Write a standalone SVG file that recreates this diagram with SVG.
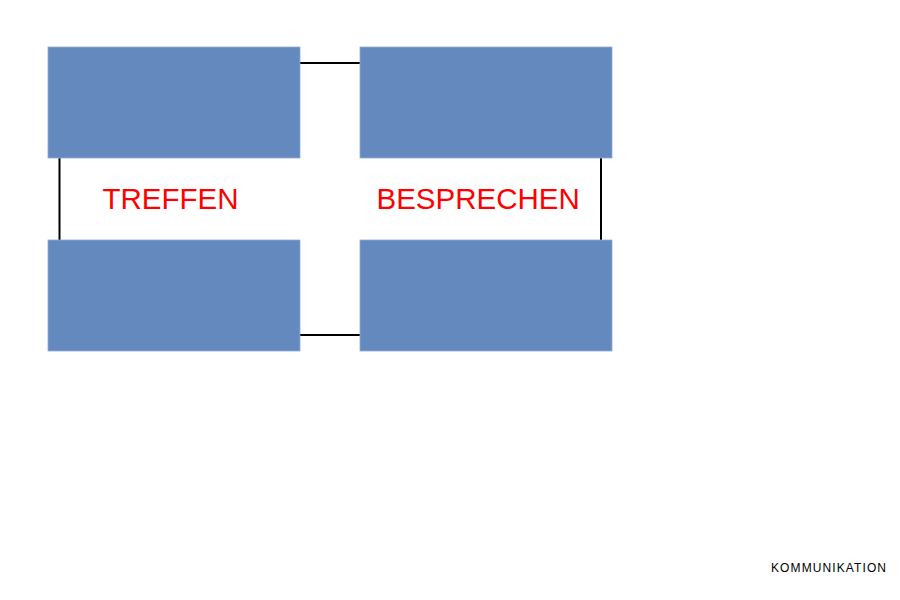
<svg xmlns="http://www.w3.org/2000/svg" width="900" height="600" viewBox="0 0 900 600">
<style>
.box{fill:#6389BE;stroke:#8FADD6;stroke-width:0.8}
.conn{stroke:#000;stroke-width:2;fill:none}
.lbl{font-family:"Liberation Sans",Arial,sans-serif;font-size:29.5px;fill:#FF0000}
.foot{font-family:"Liberation Sans",Arial,sans-serif;font-size:12px;fill:#000;letter-spacing:1.1px}
</style>
<rect width="900" height="600" fill="#fff"/>
<g id="connectors">
<line class="conn" x1="300" y1="63" x2="360" y2="63"/>
<line class="conn" x1="300" y1="335" x2="360" y2="335"/>
<line class="conn" x1="59.5" y1="158" x2="59.5" y2="240"/>
<line class="conn" x1="601" y1="158" x2="601" y2="240"/>
</g>
<g id="box-top-left"><rect class="box" x="48" y="47" width="252" height="111"/></g>
<g id="box-top-right"><rect class="box" x="360" y="47" width="252" height="111"/></g>
<g id="box-bottom-left"><rect class="box" x="48" y="240" width="252" height="111"/></g>
<g id="box-bottom-right"><rect class="box" x="360" y="240" width="252" height="111"/></g>
<g id="label-treffen"><text class="lbl" x="102.5" y="208.5">TREFFEN</text></g>
<g id="label-besprechen"><text class="lbl" x="376.5" y="208.5">BESPRECHEN</text></g>
<g id="label-kommunikation"><text class="foot" x="771" y="571.5">KOMMUNIKATION</text></g>
</svg>
